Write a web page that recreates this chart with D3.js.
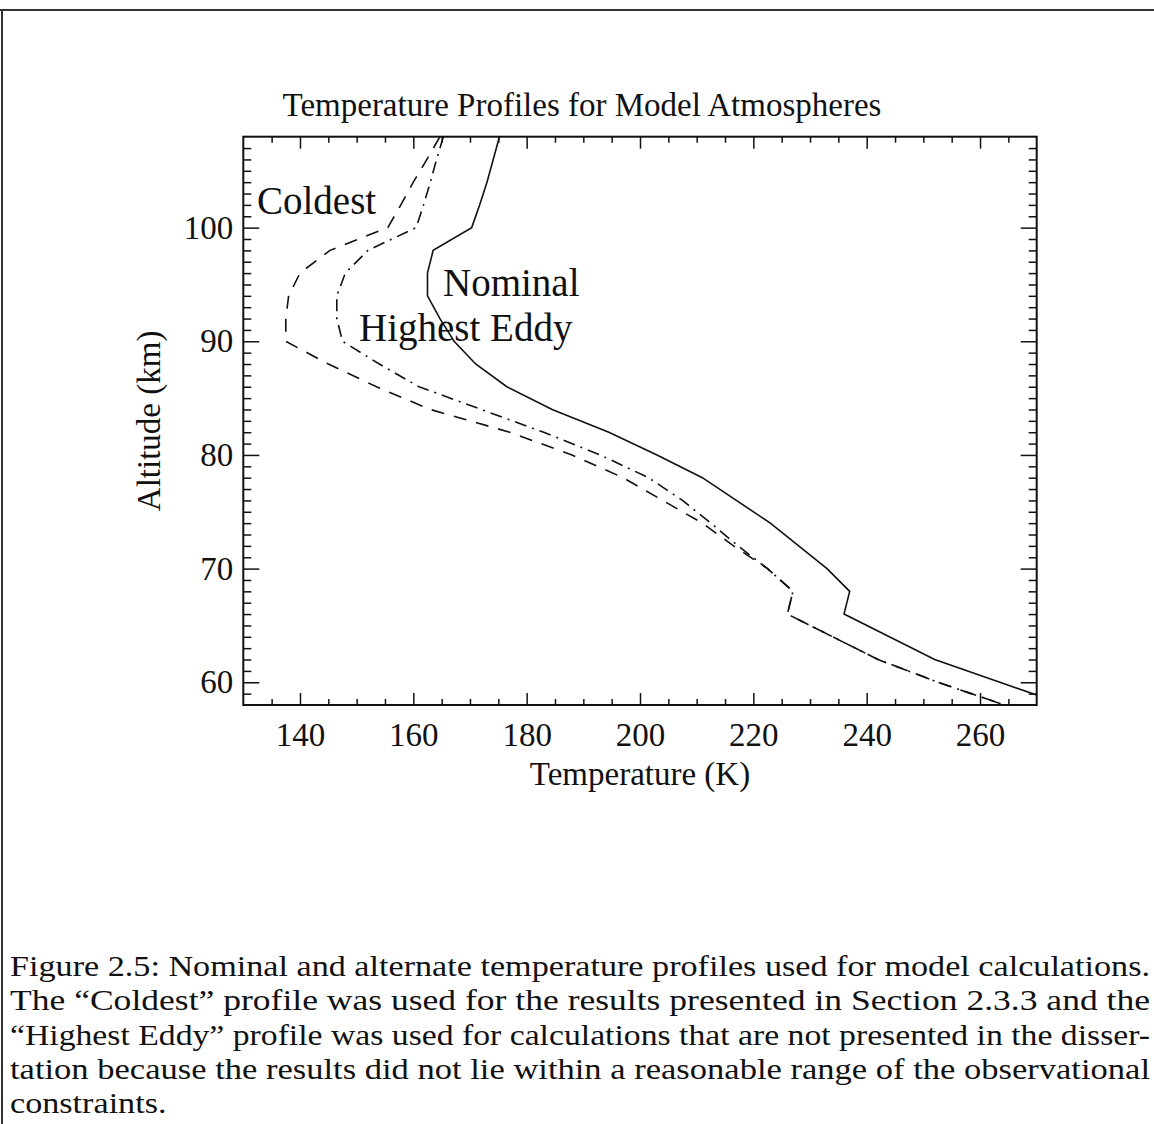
<!DOCTYPE html>
<html>
<head>
<meta charset="utf-8">
<script src="https://cdn.jsdelivr.net/npm/d3@7"></script>
<style>
  body { margin: 0; background: #fff; }
  svg { display: block; }
</style>
</head>
<body>
<div id="chart"></div>
<script>
// profiles, every 2 km from the top of the plot down
var altitude = [108, 106, 104, 102, 100, 98, 96, 94, 92, 90, 88, 86, 84, 82, 80, 78, 76, 74, 72, 70, 68, 66, 64, 62, 60, 58]
var nominal = [175.2, 174.1, 173, 171.7, 170.3, 163.5, 162.5, 162.5, 164.7, 167.2, 171, 176.5, 184.5, 194.5, 203, 211, 217, 223, 228, 233, 237, 236, 244, 252, 263.5, 275]
var coldest = [164.7, 162.4, 160, 157.8, 155.5, 145.3, 140, 138, 137.5, 137.5, 145, 153.5, 163, 177, 188, 197, 204, 211, 216.5, 222.5, 227, 226, 234, 242, 252.6, 264.3]
var highestEddy = [165.3, 164.1, 163, 161.8, 160.5, 152, 148, 146.5, 146.5, 147.5, 154, 161, 172, 183, 193, 201.5, 207.5, 212.5, 217.3, 222.5, 227, 226, 234, 242, 252.6, 264.3]

var tempTicks = [140, 160, 180, 200, 220, 240, 260]
var altTicks = [60, 70, 80, 90, 100]

var captionLines = [
  "Figure 2.5: Nominal and alternate temperature profiles used for model calculations.",
  "The \u201cColdest\u201d profile was used for the results presented in Section 2.3.3 and the",
  "\u201cHighest Eddy\u201d profile was used for calculations that are not presented in the disser-",
  "tation because the results did not lie within a reasonable range of the observational",
  "constraints."
]

var width = 1154
var height = 1124
var plotLeft = 243.3
var plotRight = 1036.7
var plotTop = 136.7
var plotBottom = 705
var serif = "'Liberation Serif', 'Times New Roman', serif"

var x = d3.scaleLinear().domain([130, 270]).range([plotLeft, plotRight])
var y = d3.scaleLinear().domain([58, 108]).range([plotBottom, plotTop])

var svg = d3.select("#chart")
  .append("svg")
  .attr("width", width)
  .attr("height", height)

svg.append("rect").attr("width", width).attr("height", height).attr("fill", "#fff")

// page frame (top and left edges of the scanned box)
svg.append("line")
  .attr("x1", 0).attr("x2", width).attr("y1", 10).attr("y2", 10)
  .attr("stroke", "#333").attr("stroke-width", 2)
svg.append("line")
  .attr("x1", 2).attr("x2", 2).attr("y1", 10).attr("y2", height)
  .attr("stroke", "#333").attr("stroke-width", 2)

// axes, all ticks pointing inward
var minorT = d3.range(135, 270, 5).filter(function (d) { return d % 20 !== 0 })
var minorA = d3.range(59, 108, 1).filter(function (d) { return d % 10 !== 0 })

function addAxis(axis, tx, ty) {
  var g = svg.append("g")
    .attr("transform", "translate(" + tx + "," + ty + ")")
    .call(axis)
  g.select(".domain").remove()
  g.selectAll(".tick line").attr("stroke", "#111").attr("stroke-width", 1.5)
  g.selectAll("text")
    .attr("fill", "#111")
    .style("font-family", serif)
    .style("font-size", "33px")
  return g
}

addAxis(d3.axisBottom(x).tickValues(tempTicks).tickSizeInner(-12).tickSizeOuter(0).tickPadding(18).tickFormat(d3.format("d")), 0, plotBottom)
addAxis(d3.axisBottom(x).tickValues(minorT).tickSizeInner(-6).tickSizeOuter(0).tickFormat(""), 0, plotBottom)
addAxis(d3.axisTop(x).tickValues(tempTicks).tickSizeInner(-12).tickSizeOuter(0).tickFormat(""), 0, plotTop)
addAxis(d3.axisTop(x).tickValues(minorT).tickSizeInner(-6).tickSizeOuter(0).tickFormat(""), 0, plotTop)
addAxis(d3.axisLeft(y).tickValues(altTicks).tickSizeInner(-16).tickSizeOuter(0).tickPadding(10).tickFormat(d3.format("d")), plotLeft, 0)
addAxis(d3.axisLeft(y).tickValues(minorA).tickSizeInner(-8).tickSizeOuter(0).tickFormat(""), plotLeft, 0)
addAxis(d3.axisRight(y).tickValues(altTicks).tickSizeInner(-16).tickSizeOuter(0).tickFormat(""), plotRight, 0)
addAxis(d3.axisRight(y).tickValues(minorA).tickSizeInner(-8).tickSizeOuter(0).tickFormat(""), plotRight, 0)

svg.append("rect")
  .attr("x", plotLeft).attr("y", plotTop)
  .attr("width", plotRight - plotLeft).attr("height", plotBottom - plotTop)
  .attr("fill", "none").attr("stroke", "#111").attr("stroke-width", 2)

// profiles
svg.append("clipPath").attr("id", "clip")
  .append("rect")
  .attr("x", plotLeft).attr("y", plotTop)
  .attr("width", plotRight - plotLeft).attr("height", plotBottom - plotTop)

var line = d3.line()
  .x(function (d) { return x(d[0]) })
  .y(function (d) { return y(d[1]) })

var series = [
  { temps: nominal, dash: null },
  { temps: coldest, dash: "13,10" },
  { temps: highestEddy, dash: "12,6,2,6" }
]

svg.append("g").attr("clip-path", "url(#clip)")
  .selectAll("path")
  .data(series)
  .enter()
  .append("path")
  .attr("d", function (s) { return line(d3.zip(s.temps, altitude)) })
  .attr("fill", "none")
  .attr("stroke", "#111")
  .attr("stroke-width", 1.6)
  .attr("stroke-dasharray", function (s) { return s.dash })

// labels
function label(txt, lx, ly, size, anchor) {
  return svg.append("text")
    .attr("x", lx).attr("y", ly)
    .attr("text-anchor", anchor || "start")
    .attr("fill", "#111")
    .style("font-family", serif)
    .style("font-size", size + "px")
    .text(txt)
}

label("Temperature Profiles for Model Atmospheres", 582, 116, 33, "middle")
label("Temperature (K)", (plotLeft + plotRight) / 2, 785, 33, "middle")
label("Altitude (km)", 0, 0, 33, "middle")
  .attr("transform", "translate(160," + (plotTop + plotBottom) / 2 + ") rotate(-90)")

label("Coldest", 257, 214, 39)
label("Nominal", 443, 296, 39)
label("Highest Eddy", 359, 341, 39)

// caption, justified line by line (glyphs stretched a little, like the wider TeX face)
var capX = 10
var capW = 1140
var stretch = 1
captionLines.forEach(function (txt, i) {
  var t = svg.append("text")
    .attr("x", capX)
    .attr("y", 976 + i * 34.3)
    .attr("fill", "#111")
    .style("font-family", serif)
    .style("font-size", "29px")
    .text(txt)
  var natural = t.node().getComputedTextLength()
  if (i === 0) stretch = capW / natural
  var target = i < captionLines.length - 1 ? capW : natural * stretch
  t.attr("textLength", target).attr("lengthAdjust", "spacingAndGlyphs")
})
</script>
</body>
</html>
